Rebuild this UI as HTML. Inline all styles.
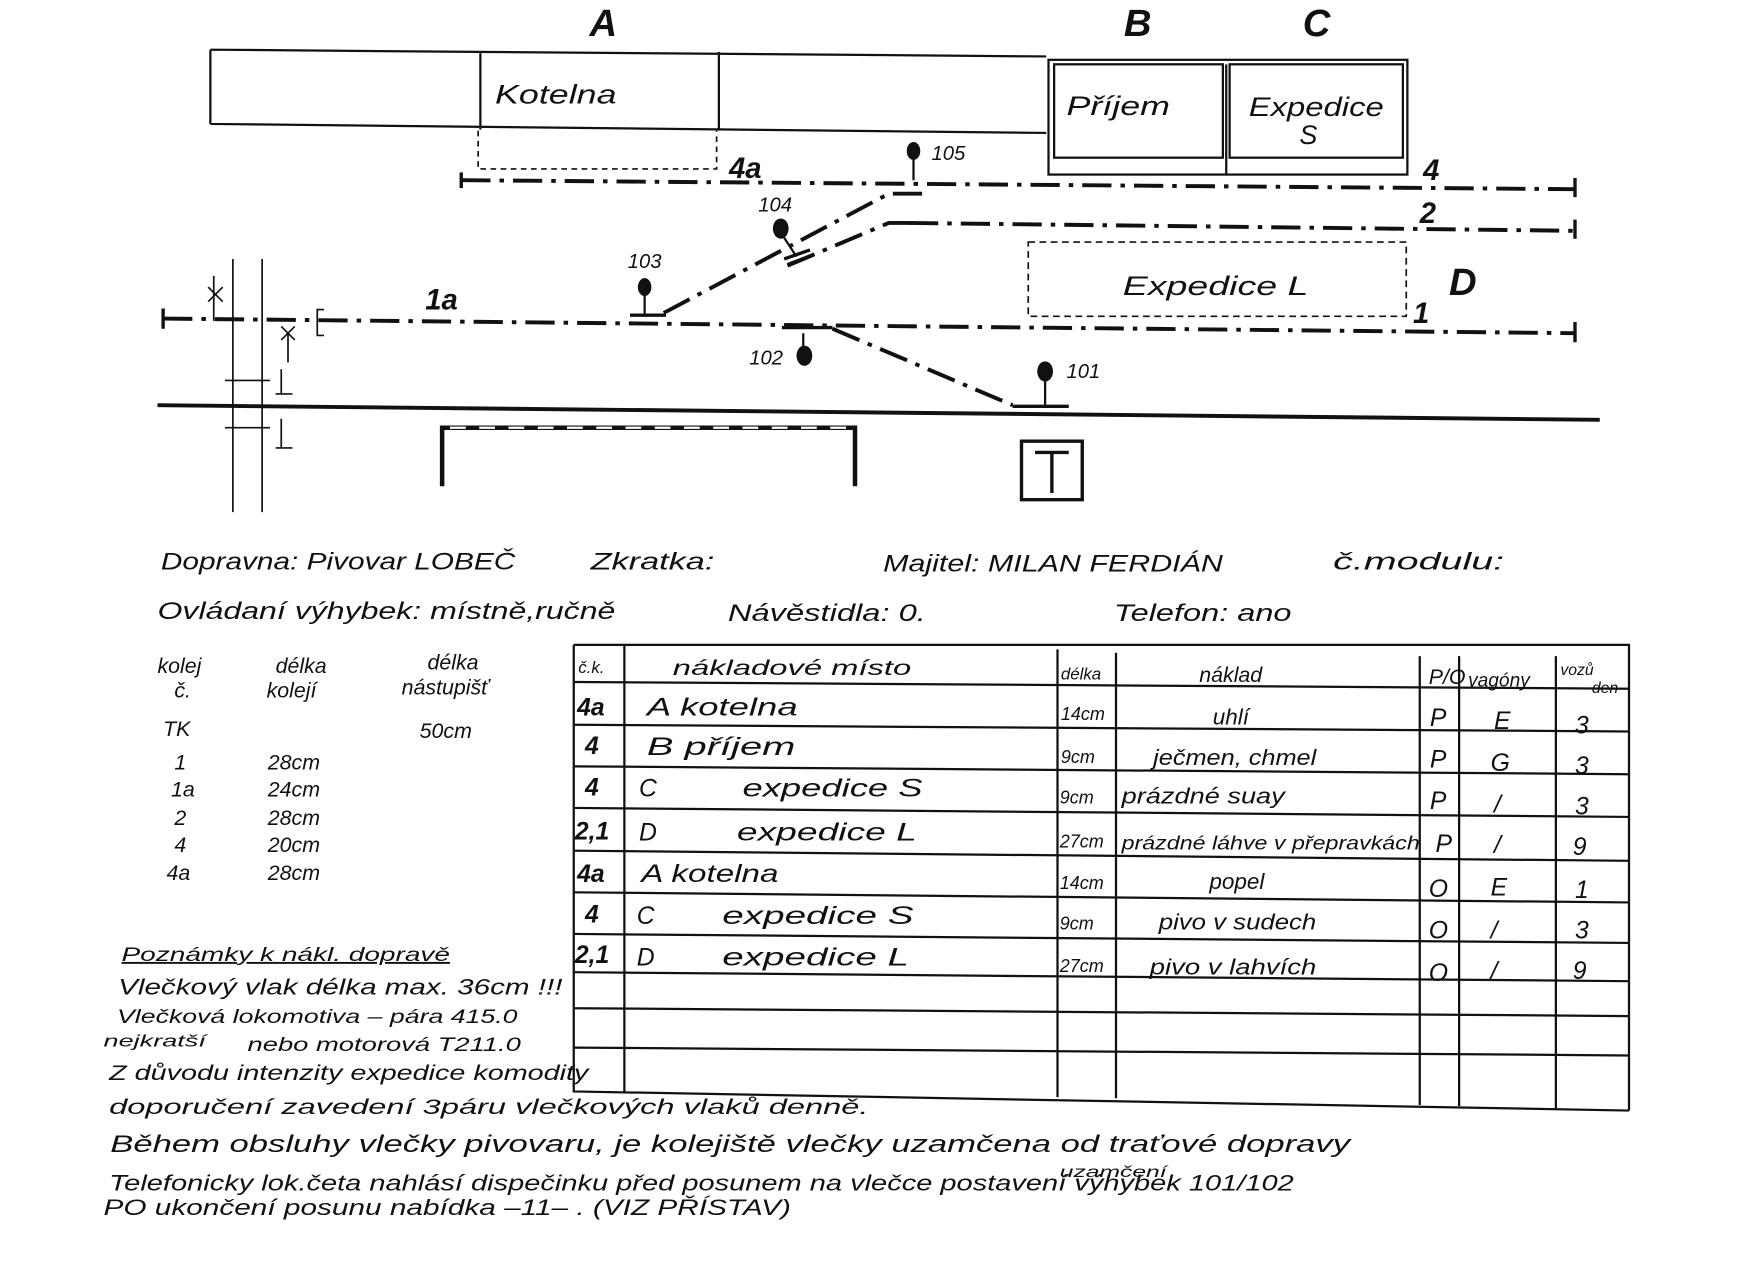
<!DOCTYPE html>
<html><head><meta charset="utf-8"><style>
html,body{margin:0;padding:0;background:#fff;}
svg{display:block;}
text{font-family:"Liberation Sans","DejaVu Sans",sans-serif;fill:#111;font-style:italic;}
</style></head><body>
<svg width="1755" height="1275" viewBox="0 0 1560 1133" xmlns="http://www.w3.org/2000/svg">
<rect width="1560" height="1133" fill="#fff"/>
<g stroke="#111" fill="none" stroke-width="2">
<path d="M187 44 L930 50 M187 110 L930 118 M187 44 V110 M427 45 V115 M639 46 V116"/>
<rect x="932" y="53" width="319" height="102"/>
<rect x="937" y="57" width="150" height="83"/>
<rect x="1093" y="57" width="154" height="83"/>
<path d="M1090 57 V155"/>
<path d="M425 116 V150 H637 V116" stroke-dasharray="5 4" stroke-width="1.5"/>
<rect x="914" y="215" width="336" height="66" stroke-dasharray="6 4" stroke-width="1.5"/>
<g stroke-width="3.5" stroke-dasharray="26 8 4 8">
<path d="M410 160 L1400 168"/>
<path d="M808 198 L1400 205"/>
<path d="M145 283 L1400 296"/>
<path d="M590 278 L790 172 L825 172"/>
<path d="M700 236 L790 198 L810 198"/>
<path d="M740 292 L900 360"/>
</g>
<g stroke-width="3">
<path d="M410 153 V167 M1400 158 V175 M1400 195 V212 M1400 286 V304 M145 274 V292"/>
<path d="M560 280 H592 M695 291 H740 M900 361 H950 M697 230 L720 222 M700 235 L724 226"/>
</g>
<path d="M140 360 L1422 373" stroke-width="3.5"/>
<path d="M393 432 V380 H760 V432" stroke-width="4"/>
<path d="M400 380 H755" stroke="#fff" stroke-width="2" stroke-dasharray="14 12"/>
<rect x="908" y="392" width="54" height="52" stroke-width="3"/>
<path d="M935 402 V438 M920 402 H950" stroke-width="3"/>
<path d="M207 230 V455 M233 230 V455" stroke-width="1.5"/>
<path d="M200 338 H240 M200 380 H240 M250 328 V350 M250 372 V398 M245 350 H260 M245 398 H260" stroke-width="1.5"/>
<path d="M185 255 L198 268 M198 255 L185 268 M190 245 V285 M250 290 L262 302 M262 290 L250 302 M256 296 V322 M288 275 H282 V298 H288" stroke-width="1.5"/>
<path d="M812 140 V160 M695 208 L708 228 M573 262 V280 M714 296 V308 M929 336 V360" stroke-width="2"/>
</g>
<g fill="#111">
<ellipse cx="812" cy="134" rx="6" ry="8"/>
<ellipse cx="694" cy="203" rx="7" ry="9"/>
<ellipse cx="573" cy="255" rx="6" ry="8"/>
<ellipse cx="715" cy="316" rx="7" ry="9"/>
<ellipse cx="929" cy="330" rx="7" ry="9"/>
</g>
<g font-size="34" font-weight="bold" style="font-style:normal">
<text x="524" y="32">A</text><text x="999" y="32">B</text><text x="1158" y="32">C</text><text x="1288" y="262" font-style="italic">D</text>
</g>
<g font-size="24" lengthAdjust="spacingAndGlyphs">
<text x="440" y="92" textLength="108" lengthAdjust="spacingAndGlyphs">Kotelna</text>
<text x="948" y="102" textLength="92" lengthAdjust="spacingAndGlyphs">Příjem</text>
<text x="1110" y="103" textLength="120" lengthAdjust="spacingAndGlyphs">Expedice</text><text x="1155" y="128">S</text>
<text x="998" y="262" textLength="165" lengthAdjust="spacingAndGlyphs">Expedice L</text>
</g>
<g font-size="26" font-weight="bold" style="font-style:normal">
<text x="648" y="158">4a</text><text x="1265" y="160">4</text><text x="1262" y="198">2</text>
<text x="378" y="275">1a</text><text x="1256" y="287">1</text>
</g>
<g font-size="18" style="font-style:normal">
<text x="828" y="142">105</text><text x="674" y="188">104</text><text x="558" y="238">103</text>
<text x="666" y="324">102</text><text x="948" y="336">101</text>
</g>
<g font-size="21">
<text x="143" y="506" textLength="315" lengthAdjust="spacingAndGlyphs">Dopravna: Pivovar LOBEČ</text>
<text x="525" y="506" textLength="110" lengthAdjust="spacingAndGlyphs">Zkratka:</text>
<text x="785" y="508" textLength="302" lengthAdjust="spacingAndGlyphs">Majitel: MILAN FERDIÁN</text>
<text x="1185" y="506" textLength="152" lengthAdjust="spacingAndGlyphs">č.modulu:</text>
<text x="140" y="550" textLength="407" lengthAdjust="spacingAndGlyphs">Ovládaní výhybek: místně,ručně</text>
<text x="647" y="552" textLength="176" lengthAdjust="spacingAndGlyphs">Návěstidla: 0.</text>
<text x="990" y="552" textLength="158" lengthAdjust="spacingAndGlyphs">Telefon: ano</text>
</g>
<g font-size="19">
<text x="140" y="598">kolej</text><text x="155" y="620">č.</text>
<text x="245" y="598">délka</text><text x="237" y="620">kolejí</text>
<text x="380" y="595">délka</text><text x="357" y="617">nástupišť</text>
<text x="145" y="654">TK</text><text x="373" y="656">50cm</text>
<text x="155" y="684">1</text><text x="238" y="684">28cm</text>
<text x="152" y="708">1a</text><text x="238" y="708">24cm</text>
<text x="155" y="733">2</text><text x="238" y="733">28cm</text>
<text x="155" y="757">4</text><text x="238" y="757">20cm</text>
<text x="148" y="782">4a</text><text x="238" y="782">28cm</text>
</g>
<g stroke="#111" stroke-width="2" fill="none">
<path d="M510 573 H1448 V987 M510 573 V970 L1448 987"/>
<path d="M555 573 V970 M940 577 V975 M992 580 V976 M1262 583 V982 M1297 583 V983 M1383 583 V985"/>
<path d="M510 606 L1448 612 M510 644 L1448 650 M510 681 L1448 688 M510 718 L1448 726 M510 756 L1448 765 M510 793 L1448 802 M510 830 L1448 838 M510 864 L1448 872 M510 896 L1448 903 M510 931 L1448 938"/>
</g>
<g font-size="19">
<text x="514" y="598" font-size="15">č.k.</text><text x="598" y="600" textLength="212" lengthAdjust="spacingAndGlyphs">nákladové místo</text>
<text x="943" y="604" font-size="15">délka</text><text x="1066" y="606">náklad</text>
<text x="1270" y="608">P/O</text><text x="1305" y="610" font-size="17">vagóny</text>
<text x="1387" y="600" font-size="14">vozů</text><text x="1415" y="616" font-size="14">den</text>
</g>
<g font-size="22">
<g font-weight="bold" style="font-style:normal"><text x="513" y="636">4a</text><text x="520" y="670">4</text><text x="520" y="707">4</text><text x="511" y="746">2,1</text><text x="513" y="784">4a</text><text x="520" y="820">4</text><text x="511" y="856">2,1</text></g>
<text x="575" y="636" textLength="134" lengthAdjust="spacingAndGlyphs">A kotelna</text><text x="575" y="671" textLength="132" lengthAdjust="spacingAndGlyphs">B příjem</text>
<text x="568" y="708">C</text><text x="660" y="708" textLength="160" lengthAdjust="spacingAndGlyphs">expedice  S</text>
<text x="568" y="747">D</text><text x="655" y="747" textLength="160" lengthAdjust="spacingAndGlyphs">expedice  L</text>
<text x="570" y="784" textLength="122" lengthAdjust="spacingAndGlyphs">A kotelna</text>
<text x="566" y="821">C</text><text x="642" y="821" textLength="170" lengthAdjust="spacingAndGlyphs">expedice  S</text>
<text x="566" y="858">D</text><text x="642" y="858" textLength="166" lengthAdjust="spacingAndGlyphs">expedice  L</text>
<g font-size="16"><text x="943" y="640">14cm</text><text x="943" y="678">9cm</text><text x="942" y="714">9cm</text><text x="942" y="753">27cm</text><text x="942" y="790">14cm</text><text x="942" y="826">9cm</text><text x="942" y="864">27cm</text></g>
<g font-size="20"><text x="1078" y="644">uhlí</text><text x="1025" y="680" textLength="145" lengthAdjust="spacingAndGlyphs">ječmen, chmel</text><text x="997" y="714" textLength="145" lengthAdjust="spacingAndGlyphs">prázdné suay</text><text x="997" y="755" font-size="17" textLength="265" lengthAdjust="spacingAndGlyphs">prázdné láhve v přepravkách</text><text x="1075" y="790">popel</text><text x="1030" y="826" textLength="140" lengthAdjust="spacingAndGlyphs">pivo v sudech</text><text x="1022" y="866" textLength="148" lengthAdjust="spacingAndGlyphs">pivo v lahvích</text></g>
<g style="font-style:normal"><text x="1271" y="645">P</text><text x="1271" y="682">P</text><text x="1271" y="719">P</text><text x="1276" y="757">P</text><text x="1270" y="797">O</text><text x="1270" y="834">O</text><text x="1270" y="872">O</text>
<text x="1328" y="648">E</text><text x="1325" y="685">G</text><text x="1328" y="722">/</text><text x="1328" y="758">/</text><text x="1325" y="796">E</text><text x="1325" y="834">/</text><text x="1325" y="870">/</text>
<text x="1400" y="652">3</text><text x="1400" y="688">3</text><text x="1400" y="724">3</text><text x="1398" y="760">9</text><text x="1400" y="798">1</text><text x="1400" y="834">3</text><text x="1398" y="870">9</text></g>
</g>
<g font-size="19">
<text x="108" y="854" text-decoration="underline" font-size="17" textLength="292" lengthAdjust="spacingAndGlyphs">Poznámky k nákl. dopravě</text>
<text x="105" y="884" font-size="20" textLength="395" lengthAdjust="spacingAndGlyphs">Vlečkový vlak délka max. 36cm !!!</text>
<text x="104" y="909" font-size="17" textLength="356" lengthAdjust="spacingAndGlyphs">Vlečková lokomotiva – pára 415.0</text>
<text x="92" y="930" font-size="15" textLength="91" lengthAdjust="spacingAndGlyphs">nejkratší</text><text x="220" y="934" font-size="17" textLength="243" lengthAdjust="spacingAndGlyphs">nebo motorová   T211.0</text>
<text x="97" y="960" textLength="426" lengthAdjust="spacingAndGlyphs">Z důvodu intenzity expedice komodity</text>
<text x="97" y="990" textLength="675" lengthAdjust="spacingAndGlyphs">doporučení zavedení 3páru vlečkových vlaků denně.</text>
<text x="98" y="1024" font-size="21" textLength="1102" lengthAdjust="spacingAndGlyphs">Během obsluhy vlečky pivovaru, je kolejiště vlečky uzamčena od traťové dopravy</text>
<text x="942" y="1046" font-size="14" textLength="95" lengthAdjust="spacingAndGlyphs">uzamčení</text>
<text x="97" y="1058" font-size="20" textLength="1053" lengthAdjust="spacingAndGlyphs">Telefonicky lok.četa nahlásí dispečinku před posunem na vlečce  postavení výhybek 101/102</text>
<text x="92" y="1080" font-size="20" textLength="611" lengthAdjust="spacingAndGlyphs">PO ukončení posunu nabídka –11– . (VIZ PŘÍSTAV)</text>
</g>
</svg>
</body></html>
